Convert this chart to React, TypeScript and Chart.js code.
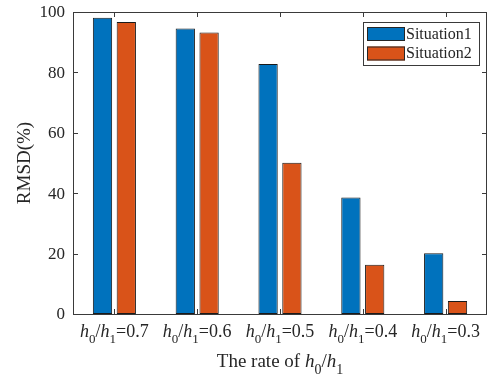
import React, { useEffect, useRef } from "react";
import { Chart, registerables } from "chart.js";

Chart.register(...registerables);

const categories = ["0.7", "0.6", "0.5", "0.4", "0.3"];
const situation1 = [98.1, 94.5, 82.8, 38.6, 20.1];
const situation2 = [96.7, 93.2, 50.1, 16.3, 4.3];
const seriesNames = ["Situation1", "Situation2"];
const seriesColors = ["#0072BD", "#D95319"];
const yTicks = [0, 20, 40, 60, 80, 100];
const xTitle = "The rate of ";
const yTitle = "RMSD(%)";

const FAMILY = "'Liberation Serif', 'Times New Roman', serif";
const AXIS = "#3a3a3a";

type Seg = { t: string; italic?: boolean; sub?: boolean };

function ratioSegs(suffix: string): Seg[] {
  return [
    { t: "h", italic: true },
    { t: "0", sub: true },
    { t: "/" },
    { t: "h", italic: true },
    { t: "1", sub: true },
    { t: suffix },
  ];
}

function drawSegs(ctx: CanvasRenderingContext2D, segs: Seg[], x: number, baseline: number, size: number, align: "center" | "left") {
  const subSize = Math.round(size * 0.72);
  const fontFor = (s: Seg) => `${s.italic ? "italic " : ""}${s.sub ? subSize : size}px ${FAMILY}`;
  let total = 0;
  const widths = segs.map((s) => {
    ctx.font = fontFor(s);
    const w = ctx.measureText(s.t).width;
    total += w;
    return w;
  });
  let cx = align === "center" ? x - total / 2 : x;
  ctx.textAlign = "left";
  ctx.textBaseline = "alphabetic";
  segs.forEach((s, i) => {
    ctx.font = fontFor(s);
    ctx.fillText(s.t, cx, s.sub ? baseline + size * 0.36 : baseline);
    cx += widths[i];
  });
}

const framePlugin = {
  id: "matlabFrame",
  afterDatasetsDraw(chart: any) {
    const ctx: CanvasRenderingContext2D = chart.ctx;
    const { left, right, top, bottom } = chart.chartArea;
    const xs = chart.scales.x;
    const ys = chart.scales.y;
    ctx.save();
    ctx.strokeStyle = AXIS;
    ctx.lineWidth = 1;
    ctx.strokeRect(Math.round(left) + 0.5, Math.round(top) + 0.5, Math.round(right - left) - 1, Math.round(bottom - top));
    const tl = 5;
    ctx.beginPath();
    categories.forEach((_, i) => {
      const px = Math.round(xs.getPixelForValue(i)) + 0.5;
      ctx.moveTo(px, bottom);
      ctx.lineTo(px, bottom - tl);
      ctx.moveTo(px, top);
      ctx.lineTo(px, top + tl);
    });
    yTicks.forEach((v) => {
      const py = Math.round(ys.getPixelForValue(v)) + 0.5;
      ctx.moveTo(left, py);
      ctx.lineTo(left + tl, py);
      ctx.moveTo(right, py);
      ctx.lineTo(right - tl, py);
    });
    ctx.stroke();

    ctx.fillStyle = "#262626";
    // y tick labels
    ctx.font = `17px ${FAMILY}`;
    ctx.textAlign = "right";
    ctx.textBaseline = "middle";
    yTicks.forEach((v) => {
      ctx.fillText(String(v), left - 8, ys.getPixelForValue(v) + 1);
    });
    // x tick labels
    categories.forEach((c, i) => {
      drawSegs(ctx, ratioSegs("=" + c), xs.getPixelForValue(i), bottom + 23, 18, "center");
    });
    // x title
    const titleSegs: Seg[] = [{ t: xTitle }, ...ratioSegs("")];
    drawSegs(ctx, titleSegs, (left + right) / 2, bottom + 53, 19, "center");
    // y title
    ctx.save();
    ctx.translate(30, (top + bottom) / 2);
    ctx.rotate(-Math.PI / 2);
    ctx.font = `19px ${FAMILY}`;
    ctx.textAlign = "center";
    ctx.textBaseline = "alphabetic";
    ctx.fillText(yTitle, 0, 0);
    ctx.restore();

    // legend
    const lx = 363, ly = 22, lw = 116, lh = 43;
    ctx.fillStyle = "#ffffff";
    ctx.fillRect(lx, ly, lw, lh);
    ctx.strokeStyle = AXIS;
    ctx.strokeRect(lx + 0.5, ly + 0.5, lw, lh);
    seriesNames.forEach((name, i) => {
      const sy = 27 + i * 19.5;
      ctx.fillStyle = seriesColors[i];
      ctx.fillRect(367, sy, 38, 14);
      ctx.strokeStyle = "#262626";
      ctx.strokeRect(367.5, sy + 0.5, 37, 13);
      ctx.fillStyle = "#262626";
      ctx.font = `16px ${FAMILY}`;
      ctx.textAlign = "left";
      ctx.textBaseline = "middle";
      ctx.fillText(name, 406, sy + 7.5);
    });
    ctx.restore();
  },
};

export default function App() {
  const ref = useRef<HTMLCanvasElement | null>(null);
  useEffect(() => {
    if (!ref.current) return;
    const chart = new Chart(ref.current, {
      type: "bar",
      data: {
        labels: categories,
        datasets: [
          {
            label: seriesNames[0],
            data: situation1,
            backgroundColor: seriesColors[0],
            borderColor: "#1a1a1a",
            borderWidth: 1,
            borderSkipped: false,
            categoryPercentage: 0.575,
            barPercentage: 0.81,
          },
          {
            label: seriesNames[1],
            data: situation2,
            backgroundColor: seriesColors[1],
            borderColor: "#1a1a1a",
            borderWidth: 1,
            borderSkipped: false,
            categoryPercentage: 0.575,
            barPercentage: 0.81,
          },
        ],
      },
      options: {
        responsive: false,
        animation: false,
        devicePixelRatio: 1,
        layout: { padding: { left: 73, top: 12, right: 8, bottom: 67 } },
        plugins: { legend: { display: false }, tooltip: { enabled: false } },
        scales: {
          x: { display: false, offset: true },
          y: { display: false, min: 0, max: 100 },
        },
      },
      plugins: [framePlugin],
    });
    return () => chart.destroy();
  }, []);
  return (
    <div style={{ position: "absolute", left: 0, top: 0, width: 495, height: 381, background: "#fff" }}>
      <canvas ref={ref} width={495} height={381} />
    </div>
  );
}
